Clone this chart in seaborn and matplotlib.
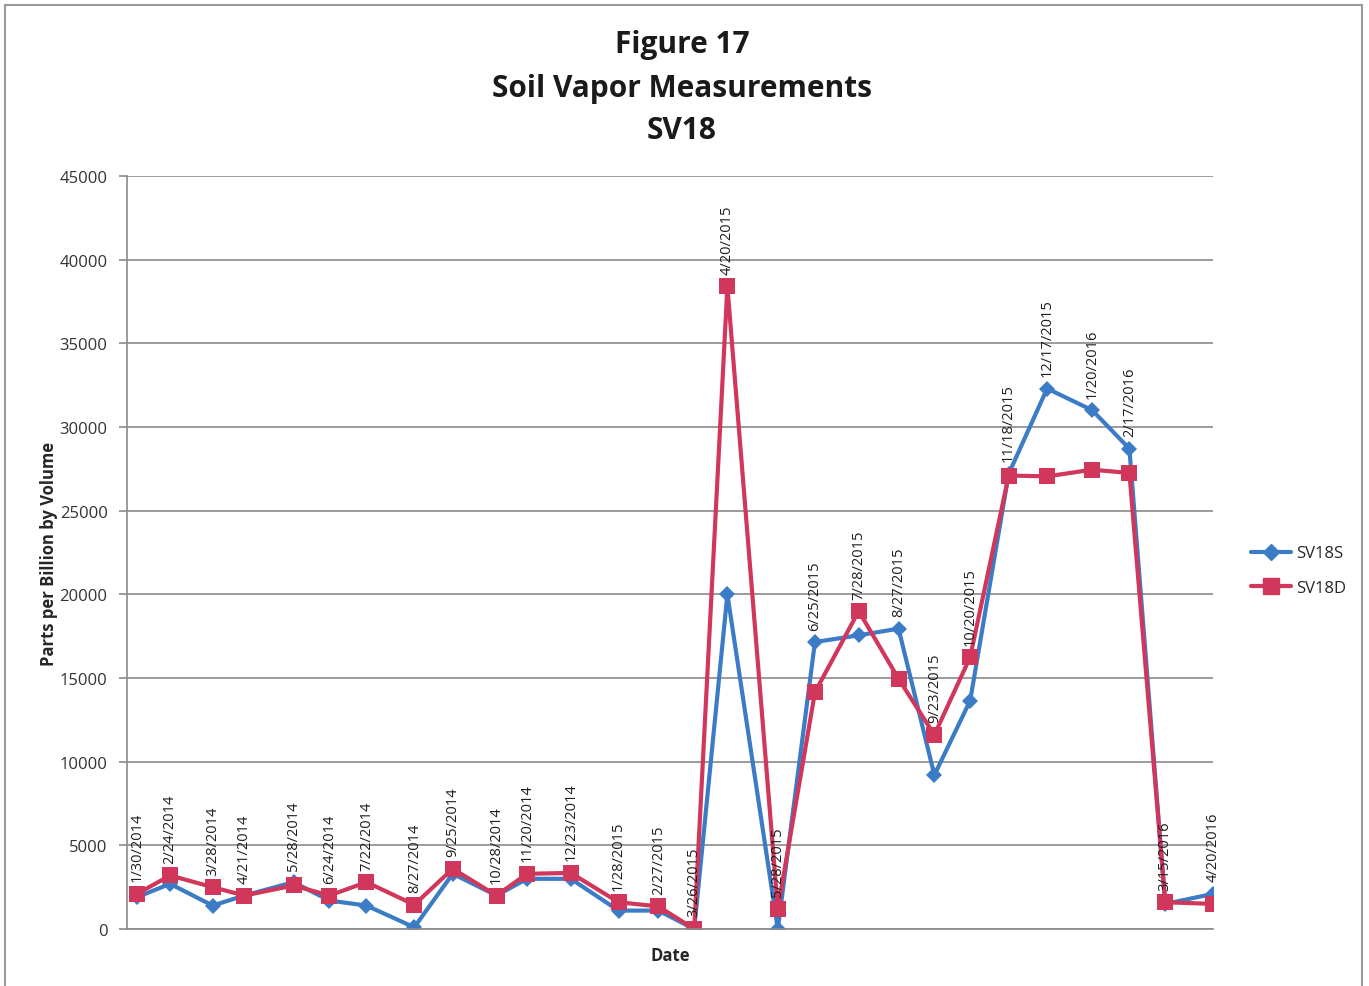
import pandas as pd
import numpy as np
import matplotlib
matplotlib.use("Agg")
import matplotlib.pyplot as plt
from matplotlib.lines import Line2D
import seaborn as sns

# sample dates and readings (ppbv)
dates = ["1/30/2014", "2/24/2014", "3/28/2014", "4/21/2014", "5/28/2014", "6/24/2014",
         "7/22/2014", "8/27/2014", "9/25/2014", "10/28/2014", "11/20/2014", "12/23/2014",
         "1/28/2015", "2/27/2015", "3/26/2015", "4/20/2015", "5/28/2015", "6/25/2015",
         "7/28/2015", "8/27/2015", "9/23/2015", "10/20/2015", "11/18/2015", "12/17/2015",
         "1/20/2016", "2/17/2016", "3/15/2016", "4/20/2016"]
sv18s = [1900, 2700, 1400, 2000, 2800, 1700, 1400, 100, 3300, 2000, 3000, 3000,
         1100, 1100, 0, 20000, 0, 17150, 17550, 17950, 9200, 13650, 27200, 32300,
         31000, 28700, 1500, 2100]
sv18d = [2100, 3200, 2500, 2000, 2600, 2000, 2800, 1450, 3600, 2000, 3300, 3350,
         1600, 1350, 0, 38400, 1200, 14150, 19000, 14950, 11600, 16250, 27100, 27050,
         27450, 27250, 1600, 1500]
series_names = ["SV18S", "SV18D"]
y_ticks = [0, 5000, 10000, 15000, 20000, 25000, 30000, 35000, 40000, 45000]

blue = "#3C7CC6"
red = "#D0375A"
grey = "#8A8A8A"

sns.set_theme(style="white")
plt.rcParams["font.family"] = ["Open Sans", "DejaVu Sans"]

x = pd.to_datetime(dates, format="%m/%d/%Y")
df = pd.DataFrame({
    "Date": np.concatenate([x, x]),
    "ppbv": sv18s + sv18d,
    "series": [series_names[0]] * len(dates) + [series_names[1]] * len(dates),
})

fig = plt.figure(figsize=(13.69, 9.87), dpi=100)
ax = fig.add_axes([127 / 1369, 1 - 930 / 987, (1213 - 127) / 1369, (930 - 177) / 987])

sns.lineplot(data=df, x="Date", y="ppbv", hue="series", style="series",
             palette={"SV18S": blue, "SV18D": red},
             markers={"SV18S": "D", "SV18D": "s"},
             dashes=False, linewidth=3, markersize=10, markeredgewidth=0,
             sort=False, ax=ax)
# enlarge the square a bit, like the original
for ln in ax.get_lines():
    if ln.get_marker() == "s":
        ln.set_markersize(11.5)
    elif ln.get_marker() == "D":
        ln.set_markersize(8)

# date labels above the higher point of each sample
for d, lab, a, b in zip(x, dates, sv18s, sv18d):
    ax.annotate(lab, (d, max(a, b)), xytext=(0, 9), textcoords="offset points",
                rotation=90, ha="center", va="bottom", fontsize=10.5, color="#1e1e1e")

ax.set_ylim(0, 45000)
ax.set_yticks(y_ticks)
ax.set_xlim(pd.Timestamp("2014-01-22 12:00"), pd.Timestamp("2016-04-20"))
ax.set_xticks([])
ax.yaxis.grid(True, color=grey, linewidth=1.2)
ax.tick_params(axis="y", left=True, length=6, width=1.2, color=grey, labelsize=12,
               labelcolor="#333333", pad=8)
for side in ["top", "right"]:
    ax.spines[side].set_visible(False)
for side in ["left", "bottom"]:
    ax.spines[side].set_color(grey)
    ax.spines[side].set_linewidth(1.2)

ax.set_xlabel("Date", fontsize=12, fontweight="bold", color="#262626", labelpad=12)
ax.set_ylabel("Parts per Billion by Volume", fontsize=12, fontweight="bold",
              color="#262626", labelpad=1)

handles = [Line2D([], [], color=blue, marker="D", markersize=8, linewidth=3),
           Line2D([], [], color=red, marker="s", markersize=11, linewidth=3)]
ax.legend(handles, series_names, loc="center left", bbox_to_anchor=(1.021, 0.476),
          frameon=False, fontsize=12, handlelength=2.4, labelspacing=1.1,
          handletextpad=0.3)

title_kw = dict(ha="center", va="center", fontsize=21.5, fontweight="bold", color="#1a1a1a")
fig.text(682 / 1369, 1 - 45 / 987, "Figure 17", **title_kw)
fig.text(682 / 1369, 1 - 89 / 987, "Soil Vapor Measurements", **title_kw)
fig.text(682 / 1369, 1 - 131 / 987, "SV18", **title_kw)

# chart frame (scanned page, bottom edge cut off)
for xs, ys in [([5, 5], [0, 981]), ([5, 1362], [981, 981]), ([1362, 1362], [0, 981])]:
    fig.add_artist(Line2D([v / 1369 for v in xs], [v / 987 for v in ys],
                          color="#9a9a9a", linewidth=1.5))

fig.savefig("out.png", dpi=100)
